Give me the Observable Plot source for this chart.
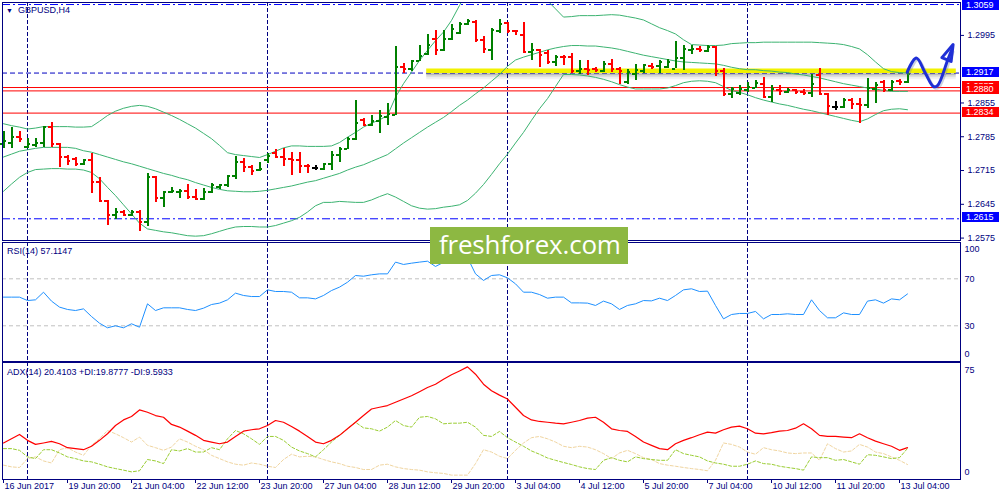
<!DOCTYPE html>
<html><head><meta charset="utf-8">
<script src="https://cdn.jsdelivr.net/npm/d3@7"></script>
<script src="https://cdn.jsdelivr.net/npm/@observablehq/plot@0.6"></script>
<style>
body{margin:0;background:#fff;}
#wrap{position:relative;width:1000px;height:500px;overflow:hidden;background:#fff;font-family:"Liberation Sans",Arial,sans-serif;}
#wrap svg{position:absolute;left:0;}
.lbl{position:absolute;font-size:9px;color:#000080;white-space:nowrap;line-height:9px;}
.box{position:absolute;left:962px;width:37px;height:10px;color:#fff;font-size:9px;line-height:10px;padding-left:4px;box-sizing:border-box;white-space:nowrap;}
#wm{position:absolute;left:430px;top:227px;width:198px;height:37px;background:#8db842;color:#fff;font-family:"Open Sans",sans-serif;font-size:26px;line-height:34px;padding-left:9px;box-sizing:border-box;white-space:nowrap;letter-spacing:-0.2px;}
</style></head><body><div id="wrap"></div>
<script>
// ---------- DATA ----------
const opens  = [1.2770,1.2772,1.2784,1.2763,1.2767,1.2772,1.2805,1.2769,1.2743,1.2738,1.2729,1.2737,1.2691,1.2651,1.2622,1.2630,1.2622,1.2630,1.2608,1.2701,1.2658,1.2670,1.2670,1.2672,1.2661,1.2655,1.2670,1.2680,1.2684,1.2703,1.2732,1.2722,1.2716,1.2737,1.2751,1.2743,1.2739,1.2737,1.2725,1.2720,1.2718,1.2729,1.2748,1.2760,1.2781,1.2819,1.2810,1.2817,1.2826,1.2830,1.2929,1.2926,1.2942,1.2957,1.2988,1.2965,1.2988,1.3000,1.3019,1.3022,1.2986,1.2965,1.3005,1.3020,1.3005,1.2995,1.2960,1.2964,1.2959,1.2939,1.2951,1.2950,1.2921,1.2926,1.2926,1.2922,1.2936,1.2926,1.2898,1.2914,1.2922,1.2931,1.2931,1.2929,1.2926,1.2949,1.2965,1.2967,1.2962,1.2971,1.2922,1.2874,1.2875,1.2881,1.2886,1.2895,1.2867,1.2882,1.2877,1.2881,1.2877,1.2875,1.2912,1.2874,1.2846,1.2846,1.2861,1.2852,1.2851,1.2884,1.2898,1.2882,1.2900,1.2898];
const highs  = [1.2796,1.2805,1.2796,1.2781,1.2782,1.2806,1.2814,1.2770,1.2746,1.2741,1.2738,1.2750,1.2701,1.2653,1.2636,1.2633,1.2633,1.2633,1.2708,1.2703,1.2672,1.2680,1.2675,1.2686,1.2675,1.2677,1.2689,1.2687,1.2705,1.2744,1.2739,1.2725,1.2731,1.2751,1.2758,1.2760,1.2753,1.2753,1.2727,1.2725,1.2730,1.2755,1.2763,1.2784,1.2860,1.2822,1.2829,1.2839,1.2853,1.2972,1.2937,1.2944,1.2974,1.2997,1.3005,1.3006,1.3018,1.3022,1.3029,1.3025,1.2993,1.3009,1.3029,1.3022,1.3006,1.3022,1.2979,1.2965,1.2964,1.2953,1.2953,1.2958,1.2943,1.2943,1.2929,1.2940,1.2946,1.2929,1.2924,1.2935,1.2935,1.2936,1.2943,1.2946,1.2983,1.2974,1.2974,1.2972,1.2974,1.2971,1.2926,1.2888,1.2891,1.2898,1.2902,1.2908,1.2891,1.2891,1.2886,1.2882,1.2882,1.2915,1.2927,1.2875,1.2859,1.2864,1.2864,1.2864,1.2905,1.2898,1.2902,1.2902,1.2903,1.2919];
const lows   = [1.2760,1.2760,1.2774,1.2760,1.2762,1.2763,1.2762,1.2722,1.2725,1.2724,1.2725,1.2667,1.2649,1.2602,1.2613,1.2620,1.2620,1.2589,1.2599,1.2649,1.2639,1.2667,1.2656,1.2654,1.2653,1.2653,1.2667,1.2675,1.2680,1.2696,1.2711,1.2705,1.2714,1.2729,1.2743,1.2724,1.2705,1.2708,1.2708,1.2715,1.2715,1.2715,1.2732,1.2758,1.2777,1.2808,1.2806,1.2791,1.2808,1.2829,1.2917,1.2921,1.2940,1.2953,1.2953,1.2962,1.2984,1.2997,1.3016,1.2981,1.2957,1.2944,1.2998,1.2998,1.2995,1.2960,1.2943,1.2929,1.2935,1.2931,1.2933,1.2917,1.2914,1.2912,1.2919,1.2919,1.2919,1.2893,1.2893,1.2901,1.2917,1.2924,1.2917,1.2926,1.2926,1.2922,1.2955,1.2960,1.2960,1.2910,1.2869,1.2865,1.2870,1.2877,1.2886,1.2864,1.2857,1.2870,1.2874,1.2872,1.2870,1.2867,1.2870,1.2829,1.2839,1.2843,1.2841,1.2812,1.2843,1.2853,1.2877,1.2879,1.2891,1.2896];
const closes = [1.2777,1.2784,1.2781,1.2769,1.2772,1.2805,1.2769,1.2744,1.2734,1.2729,1.2736,1.2691,1.2651,1.2622,1.2630,1.2622,1.2630,1.2608,1.2701,1.2658,1.2670,1.2673,1.2672,1.2661,1.2655,1.2670,1.2686,1.2685,1.2703,1.2732,1.2722,1.2715,1.2718,1.2746,1.2743,1.2739,1.2737,1.2724,1.2724,1.2720,1.2729,1.2748,1.2760,1.2781,1.2814,1.2810,1.2817,1.2827,1.2832,1.2929,1.2926,1.2942,1.2953,1.2975,1.2965,1.2988,1.3009,1.3019,1.3024,1.2986,1.2967,1.3007,1.3019,1.3005,1.3004,1.2960,1.2965,1.2955,1.2939,1.2951,1.2950,1.2921,1.2926,1.2924,1.2924,1.2936,1.2926,1.2921,1.2920,1.2924,1.2933,1.2930,1.2939,1.2940,1.2949,1.2967,1.2967,1.2965,1.2972,1.2922,1.2874,1.2884,1.2884,1.2889,1.2896,1.2867,1.2884,1.2879,1.2882,1.2877,1.2875,1.2895,1.2874,1.2848,1.2846,1.2861,1.2852,1.2851,1.2886,1.2893,1.2881,1.2899,1.2898,1.2915];

const bbUpper  = [1.2812,1.2808,1.2805,1.2801,1.2803,1.2806,1.2806,1.2806,1.2806,1.2805,1.2805,1.2806,1.2817,1.2829,1.2838,1.2844,1.2848,1.2850,1.2848,1.2843,1.2836,1.2829,1.2821,1.2812,1.2803,1.2792,1.2781,1.2767,1.2752,1.2748,1.2746,1.2744,1.2742,1.2748,1.2755,1.2762,1.2766,1.2766,1.2765,1.2765,1.2765,1.2766,1.2773,1.2784,1.2794,1.2805,1.2813,1.2820,1.2829,1.2867,1.2895,1.2919,1.2943,1.2964,1.2984,1.3002,1.3026,1.3057,1.3088,1.3105,1.3119,1.3130,1.3136,1.3136,1.3133,1.3123,1.3109,1.3088,1.3067,1.3050,1.3033,1.3034,1.3036,1.3036,1.3036,1.3037,1.3038,1.3037,1.3034,1.3031,1.3027,1.3019,1.3011,1.3005,1.2998,1.2986,1.2976,1.2975,1.2974,1.2974,1.2975,1.2978,1.2979,1.2980,1.2980,1.2981,1.2981,1.2981,1.2981,1.2981,1.2981,1.2981,1.2980,1.2979,1.2978,1.2976,1.2972,1.2967,1.2955,1.2940,1.2926,1.2920,1.2918,1.2917];
const bbMiddle = [1.2743,1.2749,1.2755,1.2758,1.2761,1.2763,1.2763,1.2763,1.2763,1.2761,1.2756,1.2753,1.2748,1.2743,1.2738,1.2733,1.2729,1.2724,1.2719,1.2714,1.2709,1.2705,1.2700,1.2696,1.2690,1.2685,1.2680,1.2676,1.2673,1.2672,1.2671,1.2671,1.2672,1.2674,1.2677,1.2680,1.2683,1.2687,1.2691,1.2694,1.2699,1.2704,1.2709,1.2716,1.2722,1.2727,1.2734,1.2741,1.2748,1.2760,1.2772,1.2783,1.2794,1.2805,1.2815,1.2825,1.2837,1.2850,1.2861,1.2874,1.2886,1.2900,1.2914,1.2931,1.2944,1.2950,1.2955,1.2960,1.2965,1.2969,1.2972,1.2974,1.2974,1.2973,1.2973,1.2971,1.2969,1.2966,1.2962,1.2958,1.2954,1.2951,1.2948,1.2945,1.2942,1.2940,1.2939,1.2938,1.2937,1.2936,1.2933,1.2929,1.2926,1.2924,1.2924,1.2922,1.2921,1.2919,1.2918,1.2915,1.2913,1.2910,1.2907,1.2903,1.2899,1.2895,1.2892,1.2889,1.2886,1.2884,1.2881,1.2879,1.2879,1.2879];
const bbLower  = [1.2672,1.2687,1.2701,1.2711,1.2717,1.2718,1.2719,1.2719,1.2718,1.2718,1.2716,1.2711,1.2698,1.2680,1.2663,1.2644,1.2625,1.2606,1.2594,1.2591,1.2588,1.2586,1.2583,1.2580,1.2579,1.2580,1.2584,1.2589,1.2594,1.2598,1.2599,1.2599,1.2598,1.2598,1.2601,1.2606,1.2611,1.2618,1.2629,1.2642,1.2649,1.2649,1.2651,1.2650,1.2649,1.2649,1.2654,1.2661,1.2667,1.2660,1.2651,1.2642,1.2637,1.2635,1.2636,1.2639,1.2641,1.2644,1.2653,1.2668,1.2686,1.2707,1.2729,1.2749,1.2772,1.2794,1.2819,1.2843,1.2864,1.2889,1.2914,1.2914,1.2913,1.2911,1.2908,1.2904,1.2899,1.2893,1.2888,1.2884,1.2884,1.2884,1.2884,1.2886,1.2891,1.2897,1.2900,1.2901,1.2900,1.2897,1.2889,1.2881,1.2877,1.2872,1.2866,1.2861,1.2857,1.2853,1.2850,1.2846,1.2842,1.2839,1.2835,1.2831,1.2827,1.2823,1.2819,1.2816,1.2822,1.2831,1.2839,1.2842,1.2843,1.2841];

const rsi = [54.4,54.4,54.4,51.5,52.1,58.6,51.0,45.9,43.9,43.0,44.4,37.9,32.2,28.3,30.0,28.3,31.7,28.8,48.7,43.0,45.3,45.3,45.3,43.9,43.0,45.0,48.1,49.3,52.1,57.8,55.8,54.9,54.9,60.6,59.2,59.2,58.6,53.8,53.8,52.9,55.8,60.0,62.9,67.1,72.8,72.2,73.4,74.2,74.2,84.2,82.2,83.3,84.2,85.0,80.5,84.0,86.5,88.0,88.0,74.2,68.6,72.8,73.4,70.8,65.7,58.6,58.6,56.6,53.5,54.4,54.4,49.5,49.5,49.3,47.3,51.0,48.7,43.9,47.3,48.7,51.5,51.2,53.5,51.5,55.8,60.6,61.5,59.2,59.5,47.3,35.9,39.6,40.5,40.5,42.2,35.9,39.6,39.6,40.2,39.6,39.6,52.1,43.0,36.8,36.8,41.0,39.6,39.6,51.0,52.1,49.3,52.9,52.1,57.1];

const adx = [23.4,26.1,28.9,25.1,22.5,23.4,24.4,22.9,20.4,19.8,19.1,21.3,25.1,29.3,34.6,38.2,40.4,44.6,43.1,41.0,39.9,35.3,33.6,31.0,28.3,25.1,24.0,22.9,24.0,27.6,31.0,31.9,32.5,34.6,37.8,36.7,34.0,31.0,27.6,24.0,22.9,25.1,28.3,32.5,36.7,41.0,45.2,46.3,47.4,49.5,51.6,53.7,56.3,59.0,61.1,64.3,67.1,69.6,72.2,67.5,61.1,56.9,54.1,51.6,46.3,41.0,38.2,37.2,36.7,36.1,35.7,36.7,37.8,39.3,39.9,36.7,32.5,31.4,30.8,27.6,24.0,21.9,19.8,19.1,22.9,25.1,26.8,28.7,30.4,29.7,31.9,33.6,34.2,32.5,29.7,29.3,30.0,31.0,31.4,32.9,35.7,32.5,28.3,27.6,27.6,27.2,26.8,29.3,26.8,24.6,22.9,21.3,18.7,20.4];
const plusDI = [19.8,19.8,18.7,14.5,13.4,19.1,19.1,17.0,14.5,13.4,11.9,11.3,9.8,8.1,7.0,6.0,4.9,5.6,12.8,11.9,10.2,19.1,18.3,19.8,17.6,17.6,20.4,19.1,26.1,31.4,29.3,26.1,22.5,27.6,27.6,25.1,20.8,18.3,16.6,14.5,19.1,24.0,28.3,32.5,36.7,33.1,32.5,31.0,33.6,37.8,34.6,33.6,39.9,40.4,38.9,35.7,36.1,36.1,36.7,33.6,28.3,27.6,30.8,26.8,24.0,21.3,18.3,16.2,13.8,12.3,10.9,9.6,8.1,7.0,6.4,12.3,14.0,12.3,11.3,14.5,13.4,12.8,12.3,12.3,19.1,16.6,15.5,14.5,11.9,10.6,9.8,8.5,8.5,9.8,11.9,10.2,9.8,8.5,7.7,7.0,6.0,14.5,14.0,14.0,12.3,12.8,11.3,9.8,15.9,15.5,14.5,13.4,14.0,19.9];
const minusDI = [9.2,8.1,7.7,13.4,14.5,11.9,10.6,19.1,20.4,17.6,15.5,21.9,26.1,31.4,29.3,26.8,24.0,27.2,21.9,20.4,18.7,20.8,26.1,24.0,21.3,19.1,15.5,13.4,11.3,9.8,9.2,10.6,9.8,8.5,7.7,12.8,16.2,14.5,14.9,14.5,12.8,11.3,10.2,8.5,7.7,6.4,6.4,9.2,9.8,8.1,7.0,6.4,6.0,4.9,4.3,3.9,2.8,2.8,2.8,10.2,19.1,17.6,14.9,13.4,18.7,23.4,26.8,27.6,26.1,24.0,21.3,20.4,21.3,20.8,19.1,16.6,13.4,17.0,18.7,16.6,14.0,12.8,10.2,9.2,8.5,7.7,7.0,6.4,5.6,12.3,23.4,22.5,20.8,17.6,16.2,20.4,19.1,18.3,17.0,16.6,17.0,17.0,12.3,22.9,19.8,17.6,18.3,22.5,20.8,17.6,16.6,14.5,12.3,9.6];

const timeLabels = ["16 Jun 2017","19 Jun 20:00","21 Jun 04:00","22 Jun 12:00","23 Jun 20:00","27 Jun 04:00","28 Jun 12:00","29 Jun 20:00","3 Jul 04:00","4 Jul 12:00","5 Jul 20:00","7 Jul 04:00","10 Jul 12:00","11 Jul 20:00","13 Jul 04:00"];
const timeLabelBars = [0,8,16,24,32,40,48,56,64,72,80,88,96,104,112];
const separatorBars = [3,33,63,93];

const priceTicks = [1.2575,1.2645,1.2715,1.2785,1.2855,1.2995];
const blueLevels = [1.3059,1.2615];
const dashedLevels = [1.2917];
const redLevels = [1.2887,1.2880,1.2834];
const priceBoxes = [
  {p:1.3059,c:"#0000ff"},{p:1.2917,c:"#0000ff"},{p:1.2887,c:"#ff0000"},
  {p:1.2880,c:"#ff0000"},{p:1.2834,c:"#ff0000"},{p:1.2615,c:"#0000ff"}];

const yellowFrom = 52.9, yellowTo = 119.1, yellowPrice = 1.2922;
const arrowBars   = [112.96,114.1,115.25,116.25,116.75,118.0,118.5];
const arrowPrices = [1.2919,1.2948,1.2916,1.2889,1.2891,1.2943,1.2964];
const headBars    = [117.3,118.7,118.45,117.3];
const headPrices  = [1.2949,1.2976,1.2941,1.2949];

const rsiLevels = [70,30];
const rsiLabels = [100,70,30,0];
const adxLabels = [75,0];

// ---------- BUILD ----------
const NAVY = "#000080";
const TICK = 0.38;
const bars = opens.map((o,i)=>({i,o,h:highs[i],l:lows[i],c:closes[i],
  up:bbUpper[i],mid:bbMiddle[i],lo:bbLower[i],
  col: closes[i]>o ? "#008000" : closes[i]<o ? "#ff0000" : "#000000"}));
const ind = rsi.map((v,i)=>({i,rsi:v,adx:adx[i],pdi:plusDI[i],mdi:minusDI[i]}));
const arrow = arrowBars.map((b,k)=>({x:b,y:arrowPrices[k]}));
const head = headBars.map((b,k)=>({x:b,y:headPrices[k]}));
const xdom = [-0.125, 119.625];
const baseStyle = {fontFamily:"'Liberation Sans', Arial, sans-serif", fontSize:"9px", color:NAVY, background:"none", overflow:"visible"};
const wrap = document.getElementById("wrap");

const main = Plot.plot({
  width:1000, height:241, marginLeft:2, marginRight:40, marginTop:2, marginBottom:1,
  style: baseStyle,
  x:{domain:xdom, axis:null},
  y:{domain:[1.2570,1.30632], axis:"right", ticks:priceTicks, tickSize:3, tickPadding:4, tickFormat:d=>d.toFixed(4), label:null},
  marks:[
    Plot.ruleX(separatorBars,{x:d=>d, stroke:NAVY, strokeDasharray:"4,2"}),
    Plot.ruleY(blueLevels,{y:d=>d, stroke:"#0000ff", strokeDasharray:"8,3,2,3"}),
    Plot.ruleY(dashedLevels,{y:d=>d, stroke:"#0000c0", strokeDasharray:"5,3"}),
    Plot.ruleY(redLevels,{y:d=>d, stroke:"#ff0000"}),
    Plot.ruleY([yellowPrice],{x1:yellowFrom,x2:yellowTo,y:d=>d,stroke:"#000",strokeOpacity:0.28,strokeWidth:2,dy:3.5}),
    Plot.ruleY([yellowPrice],{x1:yellowFrom,x2:yellowTo,y:d=>d,stroke:"#000",strokeOpacity:0.13,strokeWidth:2,dy:5.5}),
    Plot.ruleY([yellowPrice],{x1:yellowFrom,x2:yellowTo,y:d=>d,stroke:"#000",strokeOpacity:0.05,strokeWidth:2,dy:7.5}),
    Plot.ruleY([yellowPrice],{x1:yellowFrom,x2:yellowTo,y:d=>d,stroke:"#f2f200",strokeWidth:4.5}),
    Plot.line(bars,{x:"i",y:"up",stroke:"#3cb371",strokeWidth:1,clip:true}),
    Plot.line(bars,{x:"i",y:"mid",stroke:"#3cb371",strokeWidth:1,clip:true}),
    Plot.line(bars,{x:"i",y:"lo",stroke:"#3cb371",strokeWidth:1,clip:true}),
    Plot.ruleX(bars,{x:"i",y1:"l",y2:"h",stroke:"col",strokeWidth:2,shapeRendering:"crispEdges"}),
    Plot.ruleY(bars,{y:"o",x1:d=>d.i-TICK,x2:"i",stroke:"col",strokeWidth:2,shapeRendering:"crispEdges"}),
    Plot.ruleY(bars,{y:"c",x1:"i",x2:d=>d.i+TICK,stroke:"col",strokeWidth:2,shapeRendering:"crispEdges"}),
    Plot.line(arrow,{x:"x",y:"y",stroke:"#7080a0",strokeOpacity:0.35,strokeWidth:3,curve:"catmull-rom",dx:1.5,dy:1.5}),
    Plot.line(arrow,{x:"x",y:"y",stroke:"#1f2fd6",strokeWidth:3,curve:"catmull-rom",strokeLinejoin:"round",strokeLinecap:"round"}),
    Plot.line(head,{x:"x",y:"y",stroke:"#1f2fd6",strokeWidth:3,strokeLinejoin:"round",fill:"none"}),
    Plot.frame({stroke:NAVY})
  ]
});
main.style.top = "0px";
wrap.appendChild(main);

const rsiPlot = Plot.plot({
  width:1000, height:120, marginLeft:2, marginRight:40, marginTop:0, marginBottom:1,
  style: baseStyle,
  x:{domain:xdom, axis:null},
  y:{domain:[-0.4,100.9], axis:null},
  marks:[
    Plot.ruleX(separatorBars,{x:d=>d, stroke:NAVY, strokeDasharray:"4,2"}),
    Plot.ruleY(rsiLevels,{y:d=>d, stroke:"#c0c0c0", strokeDasharray:"4,3"}),
    Plot.line(ind,{x:"i",y:"rsi",stroke:"#1e90ff",strokeWidth:1}),
    Plot.text(rsiLabels.filter(v=>v===100),{y:d=>d,text:d=>String(d),frameAnchor:"right",textAnchor:"start",dx:4,dy:6,fill:NAVY}),
    Plot.text(rsiLabels.filter(v=>v>0&&v<100),{y:d=>d,text:d=>String(d),frameAnchor:"right",textAnchor:"start",dx:4,fill:NAVY}),
    Plot.text(rsiLabels.filter(v=>v===0),{y:d=>d,text:d=>String(d),frameAnchor:"right",textAnchor:"start",dx:4,dy:-7,fill:NAVY}),
    Plot.frame({stroke:NAVY})
  ]
});
rsiPlot.style.top = "242px";
wrap.appendChild(rsiPlot);

const adxPlot = Plot.plot({
  width:1000, height:138, marginLeft:2, marginRight:40, marginTop:0, marginBottom:21,
  style: baseStyle,
  x:{domain:xdom, axis:null},
  y:{domain:[0,75], axis:null},
  marks:[
    Plot.ruleX(separatorBars,{x:d=>d, stroke:NAVY, strokeDasharray:"4,2"}),
    Plot.line(ind,{x:"i",y:"mdi",stroke:"#f0d5a0",strokeWidth:1,strokeDasharray:"3,2"}),
    Plot.line(ind,{x:"i",y:"pdi",stroke:"#9acd32",strokeWidth:1,strokeDasharray:"3,2"}),
    Plot.line(ind,{x:"i",y:"adx",stroke:"#ff0000",strokeWidth:1.2}),
    Plot.text(adxLabels.filter(v=>v>0),{y:d=>d,text:d=>String(d),frameAnchor:"right",textAnchor:"start",dx:4,dy:8,fill:NAVY}),
    Plot.text(adxLabels.filter(v=>v===0),{y:d=>d,text:d=>String(d),frameAnchor:"right",textAnchor:"start",dx:4,dy:-7,fill:NAVY}),
    Plot.ruleX(timeLabelBars,{x:d=>d,stroke:NAVY,insetTop:117,insetBottom:-4}),
    Plot.text(timeLabelBars,{x:d=>d,text:(d,k)=>timeLabels[k],frameAnchor:"bottom",textAnchor:"start",dx:1,dy:9,fill:NAVY}),
    Plot.frame({stroke:NAVY})
  ]
});
adxPlot.style.top = "362px";
wrap.appendChild(adxPlot);

// price boxes on the right scale
const ys = main.scale("y");
for (const b of priceBoxes) {
  const d = document.createElement("div");
  d.className = "box";
  d.style.background = b.c;
  d.style.top = Math.max(0, ys.apply(b.p) - 6) + "px";
  d.textContent = b.p.toFixed(4);
  wrap.appendChild(d);
}

function label(txt, left, top) {
  const d = document.createElement("div");
  d.className = "lbl"; d.textContent = txt;
  d.style.left = left + "px"; d.style.top = top + "px";
  wrap.appendChild(d); return d;
}
const tri = label("▼", 6, 6); tri.style.fontSize = "7px";
label("GBPUSD,H4", 18, 6);
label("RSI(14) 57.1147", 7, 247);
label("ADX(14) 20.4103 +DI:19.8777 -DI:9.5933", 7, 367.5);

const wm = document.createElement("div");
wm.id = "wm"; wm.textContent = "freshforex.com";
wrap.appendChild(wm);
</script>
</body></html>
